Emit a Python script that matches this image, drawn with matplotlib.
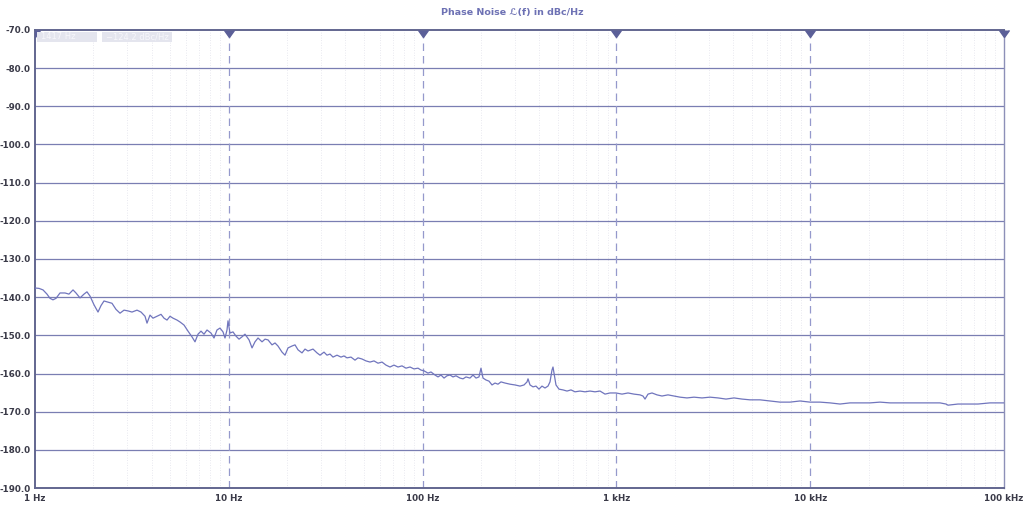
import numpy as np
import matplotlib
matplotlib.use('Agg')
import matplotlib.pyplot as plt
from matplotlib.ticker import FixedLocator, NullFormatter
from matplotlib.patches import Rectangle

# Measured phase noise trace (offset frequency in Hz, level in dBc/Hz)
freq_hz = [1.0, 1.049, 1.10, 1.153, 1.195, 1.238, 1.284, 1.346, 1.428, 1.497,
           1.571, 1.627, 1.707, 1.790, 1.854, 1.922, 2.016, 2.114, 2.191, 2.270,
           2.380, 2.496, 2.618, 2.746, 2.879, 3.019, 3.166, 3.360, 3.524, 3.695,
           3.784, 3.921, 4.064, 4.262, 4.469, 4.631, 4.799, 4.973, 5.154, 5.404,
           5.600, 5.873, 6.159, 6.458, 6.693, 6.936, 7.188, 7.448, 7.719, 8.093,
           8.387, 8.691, 9.006, 9.335, 9.559, 9.788, 9.906, 10.14, 10.51, 10.89,
           11.29, 11.70, 12.12, 12.72, 13.18, 13.65, 14.15, 14.84, 15.38, 15.94,
           16.71, 17.32, 17.94, 18.82, 19.50, 20.21, 21.19, 21.96, 22.76, 23.86,
           24.73, 25.63, 27.20, 28.52, 29.56, 30.99, 32.11, 33.28, 34.49, 36.17,
           37.92, 39.30, 40.73, 42.70, 44.79, 46.42, 48.67, 51.04, 53.53, 56.13,
           58.87, 61.73, 64.73, 67.88, 71.18, 74.65, 78.29, 82.09, 86.10, 90.28,
           94.70, 98.11, 101.7, 106.6, 110.5, 115.9, 120.1, 124.4, 129.0, 133.6,
           138.5, 143.5, 148.7, 156.0, 161.6, 167.5, 175.6, 182.0, 188.6, 195.4,
           200.1, 205.0, 212.4, 220.1, 228.1, 236.4, 244.9, 253.8, 266.2, 282.5,
           299.9, 318.2, 333.7, 345.8, 349.9, 358.3, 371.3, 384.7, 398.6, 413.1,
           428.1, 443.6, 454.3, 465.2, 470.8, 476.4, 487.8, 505.5, 530.2, 556.0,
           583.1, 611.5, 649.0, 688.7, 730.8, 775.6, 823.1, 873.5, 926.9, 995.2,
           1069, 1148, 1232, 1324, 1371, 1405, 1456, 1527, 1620, 1719,
           1846, 1983, 2130, 2313, 2514, 2765, 3041, 3344, 3677, 4045,
           4447, 4891, 5508, 6203, 6985, 7866, 8858, 9977, 11235, 12654,
           14250, 16050, 18072, 20350, 22925, 25810, 29070, 32730, 36860, 41510,
           46750, 50200, 51400, 57890, 65190, 73410, 84700, 100000]
noise_dbc = [-137.6, -137.7, -138.1, -139.2, -140.3, -140.7, -140.3, -138.9, -138.9, -139.2,
             -138.1, -138.9, -140.2, -139.2, -138.6, -139.7, -142.0, -143.9, -142.2, -141.0,
             -141.3, -141.6, -143.2, -144.2, -143.4, -143.6, -143.9, -143.4, -143.9, -145.0,
             -146.8, -144.7, -145.5, -145.0, -144.5, -145.5, -146.0, -145.0, -145.5, -146.0,
             -146.5, -147.3, -148.9, -150.4, -151.7, -149.7, -148.9, -149.7, -148.6, -149.4,
             -150.7, -148.6, -148.1, -149.1, -150.7, -148.6, -146.2, -149.4, -149.1, -150.2,
             -151.0, -150.4, -149.7, -151.2, -153.3, -151.7, -150.7, -151.7, -151.0, -151.2,
             -152.5, -152.0, -152.8, -154.4, -155.2, -153.3, -152.8, -152.5, -153.8, -154.6,
             -153.6, -154.1, -153.6, -154.6, -155.2, -154.4, -155.2, -154.9, -155.7, -155.2,
             -155.7, -155.4, -155.9, -155.7, -156.5, -155.9, -156.2, -156.7, -157.0, -156.7,
             -157.3, -157.0, -157.8, -158.3, -157.8, -158.3, -158.0, -158.6, -158.3, -158.8,
             -158.6, -159.1, -159.3, -159.9, -159.6, -160.4, -160.9, -160.4, -161.2, -160.6,
             -160.4, -160.9, -160.6, -161.2, -161.4, -160.9, -161.2, -160.4, -161.2, -160.9,
             -158.6, -161.2, -161.7, -162.0, -163.0, -162.5, -162.8, -162.2, -162.5, -162.8,
             -163.0, -163.3, -163.0, -162.2, -161.4, -163.0, -163.5, -163.3, -164.1, -163.3,
             -163.8, -163.3, -162.2, -159.1, -158.3, -159.9, -163.0, -164.1, -164.3, -164.6,
             -164.3, -164.8, -164.6, -164.8, -164.6, -164.8, -164.6, -165.4, -165.1, -165.1,
             -165.4, -165.1, -165.4, -165.6, -165.9, -166.7, -165.4, -165.1, -165.6, -165.9,
             -165.6, -165.9, -166.2, -166.4, -166.2, -166.4, -166.2, -166.4, -166.7, -166.4,
             -166.7, -166.9, -166.9, -167.2, -167.5, -167.5, -167.2, -167.5, -167.5, -167.7,
             -168.0, -167.7, -167.7, -167.7, -167.5, -167.7, -167.7, -167.7, -167.7, -167.7,
             -167.7, -168.0, -168.3, -168.0, -168.0, -168.0, -167.7, -167.7]

decades = [1, 10, 100, 1000, 10000, 100000]
decade_labels = ["1 Hz", "10 Hz", "100 Hz", "1 kHz", "10 kHz", "100 kHz"]
y_ticks = [-70, -80, -90, -100, -110, -120, -130, -140, -150, -160, -170, -180, -190]
marker_freq = "1417 Hz"
marker_level = "\u2212124.2 dBc/Hz"

LINE = "#7075bd"
GRID = "#7a7eb2"
DASH = "#9599cc"
AXIS = "#62668f"

fig = plt.figure(figsize=(10.24, 5.05), dpi=100)
ax = fig.add_axes([35/1024, 1 - 488/505, (1004 - 35)/1024, (488 - 30)/505])

ax.set_xscale("log")
ax.set_xlim(1, 100000)
ax.set_ylim(-190, -70)

# minor grid (dotted, very light)
minor = [m * d for d in decades[:-1] for m in range(2, 10)]
for f in minor:
    ax.axvline(f, color="#e2e2ea", lw=0.6, ls=(0, (1, 2)), zorder=0)
# horizontal grid
for v in y_ticks[1:-1]:
    ax.axhline(v, color=GRID, lw=0.9, zorder=1)
# dashed decade lines
for f in decades[1:-1]:
    ax.axvline(f, color=DASH, lw=0.9, ls=(0, (6, 4)), zorder=1)

ax.plot(freq_hz, noise_dbc, color=LINE, lw=0.9, zorder=3)

# decade markers on top edge
ax.plot(decades[1:], [-70] * 5, ls="none", marker=11, ms=6.5,
        color="#5b5f98", clip_on=False, zorder=5)
ax.plot(decades[:1], [-70], ls="none", marker=11, ms=6.5,
        color="#5b5f98", clip_on=True, zorder=5)

ax.xaxis.set_major_locator(FixedLocator(decades))
ax.set_xticks(decades)
ax.set_xticklabels(decade_labels)
ax.xaxis.set_minor_formatter(NullFormatter())
ax.set_yticks(y_ticks)
ax.set_yticklabels([f"{v:.1f}" for v in y_ticks])
ax.tick_params(axis="both", which="both", length=0, labelsize=6.3,
               labelcolor="#3a3a48")
ax.tick_params(axis="x", pad=4)
ax.tick_params(axis="y", pad=3)
for lab in ax.get_xticklabels() + ax.get_yticklabels():
    lab.set_fontweight("bold")

for side in ["left", "bottom", "top"]:
    ax.spines[side].set_color(AXIS)
    ax.spines[side].set_linewidth(1.4)
ax.spines["right"].set_color("#8d90b8")
ax.spines["right"].set_linewidth(1.0)

# marker readout boxes
for x0, x1, txt in [(37, 97, marker_freq), (102, 172, marker_level)]:
    ax0 = (x0 - 35) / 969
    w = (x1 - x0) / 969
    ax.add_patch(Rectangle((ax0, 1 - 12/458), w, 10/458, transform=ax.transAxes,
                           fc="#e4e5ee", ec="none", zorder=6, clip_on=False))
    ax.text(ax0 + 4/969, 1 - 7/458, txt, transform=ax.transAxes, fontsize=6,
            color="#f7f7fb", va="center", ha="left", zorder=7)

fig.text(0.5, 1 - 12/505, "Phase Noise \u2112(f) in dBc/Hz", ha="center",
         va="center", fontsize=6.8, fontweight="bold", color="#6d71b4")

plt.savefig("out.png", dpi=100)
plt.close()
